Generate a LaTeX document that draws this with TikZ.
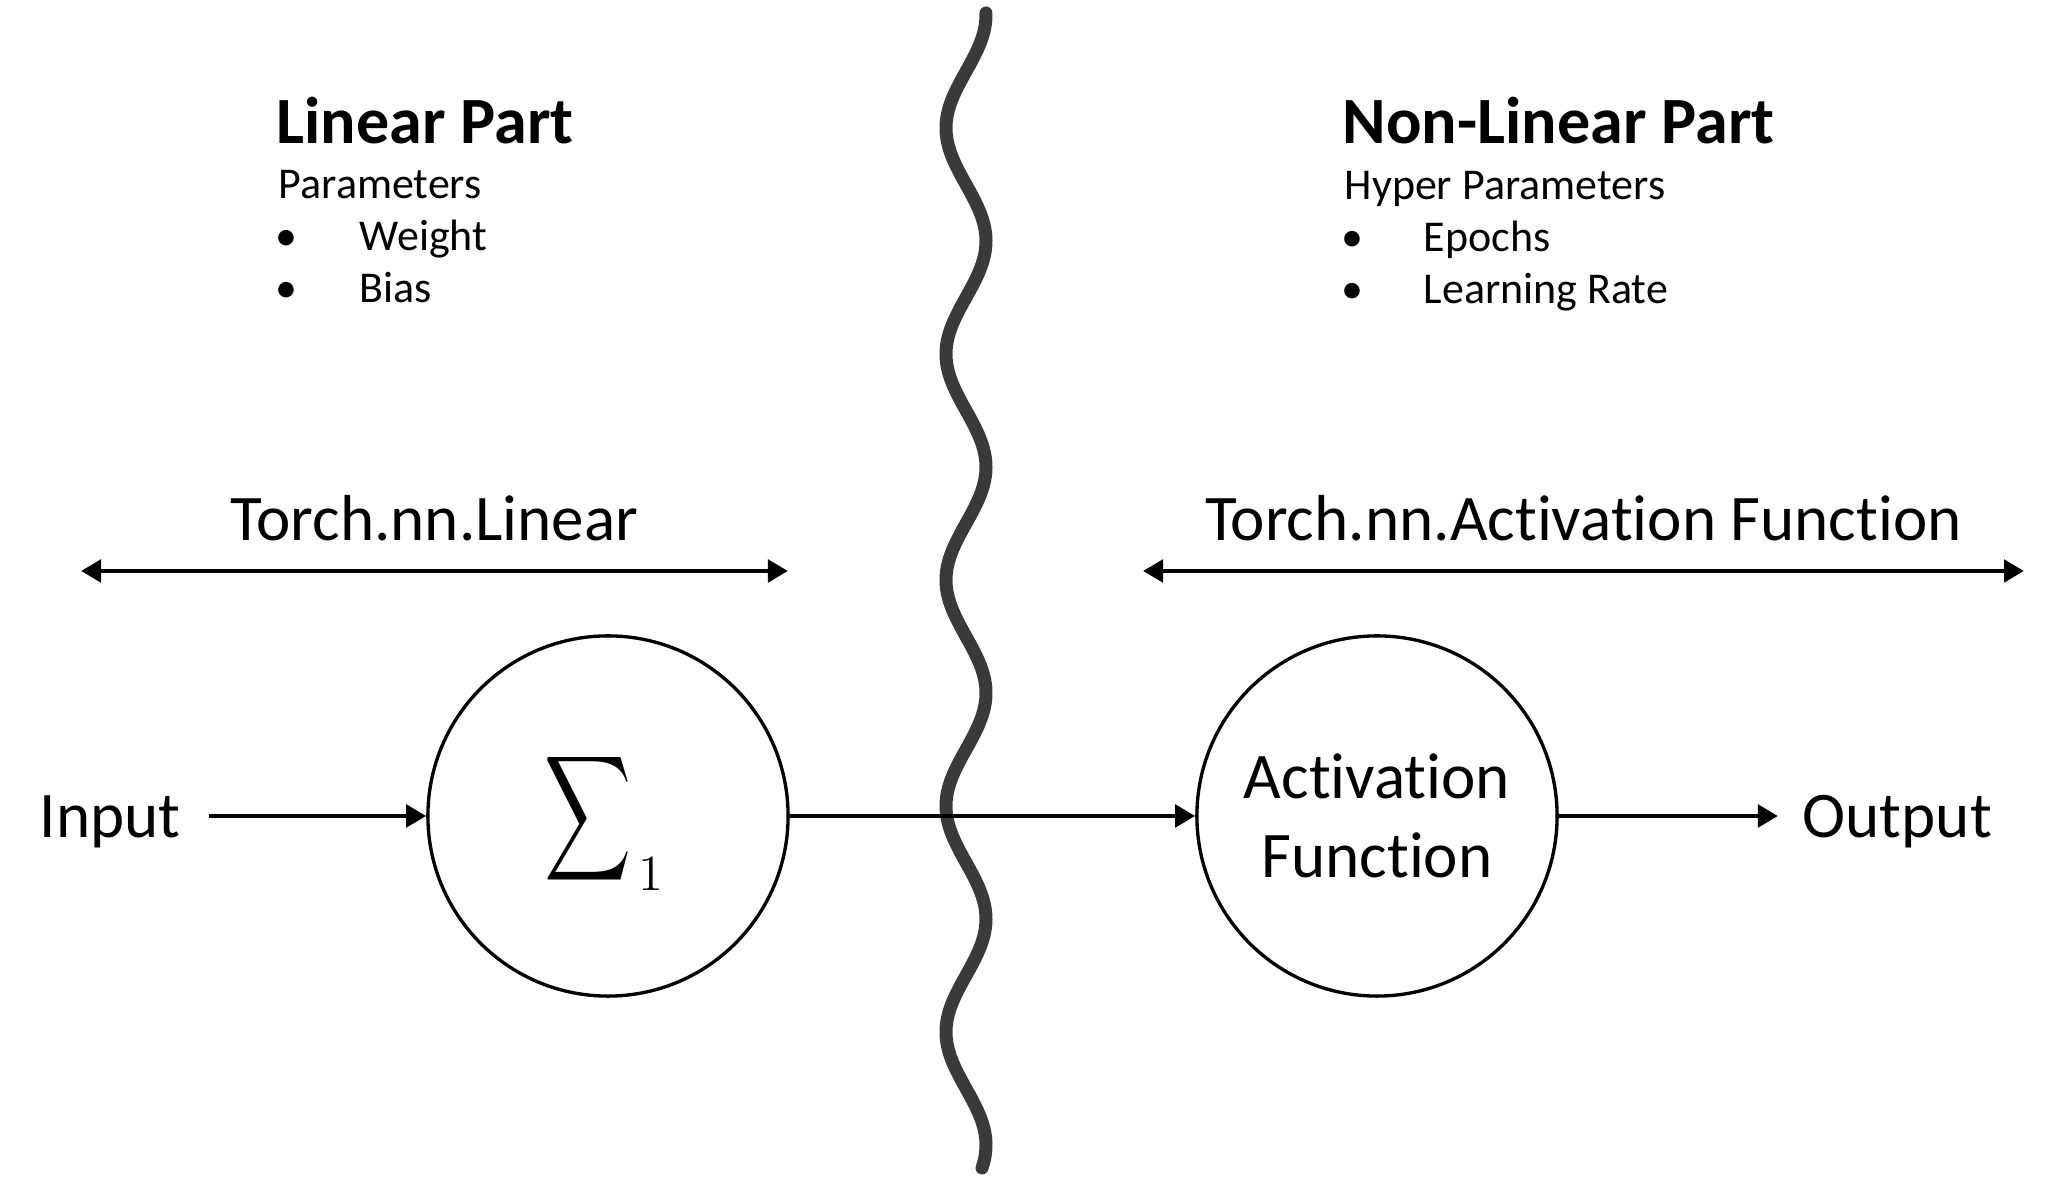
\documentclass[tikz,border=0pt]{standalone}
\usepackage{amsmath}
\usepackage{graphicx}
\usepackage{fontspec}
\setmainfont{Carlito}[Ligatures=NoCommon]
\usetikzlibrary{arrows.meta}
\definecolor{wavegray}{RGB}{58,58,58}

\begin{document}
\begin{tikzpicture}[x=0.01cm,y=-0.01cm,
    >={Triangle[length=0.2cm,width=0.22cm]},
    neuron/.style={draw,circle,line width=0.95pt,minimum size=3.6cm,inner sep=0pt},
    heading/.style={anchor=base west,inner sep=0pt,font=\fontsize{18.8}{23}\selectfont\bfseries},
    subtext/.style={anchor=base west,inner sep=0pt,font=\fontsize{12.5}{15}\selectfont},
    tag/.style={inner sep=0pt,font=\fontsize{18.5}{22.5}\selectfont},
    link/.style={line width=1.4pt}]
        \useasboundingbox (0,0) rectangle (2050,1198);
        % draw the wavy divider
        \draw[wavegray,line width=3.7pt,line cap=round]
            plot[domain=13:1168,samples=240,smooth] ({966+20*cos(1.5929*(\x-15))},\x);
        % draw the two neurons
        \node[neuron] (sum) at (608,816) {};
        \node[anchor=base,inner sep=0pt] (sigma) at (604,841)
            {\fontsize{25}{30}\selectfont\scalebox{0.69}[1]{$\displaystyle\sum$}\kern2pt
             \raisebox{-14pt}{\fontsize{13.5}{16}\selectfont$1$}};
        \node[neuron,tag,align=center,minimum size=3.6cm] (act) at (1377,816) {Activation\\Function};
        % input and output
        \node[tag,anchor=base west] (input) at (39,838) {Input};
        \node[tag,anchor=base west] (output) at (1802,838) {Output};
        \coordinate (instart) at (209,816);
        \coordinate (outend) at (1778,816);
        \draw[link,->] (instart) -- (sum);
        \draw[link,->] (sum) -- (act);
        \draw[link,->] (act) -- (outend);
        % draw the two ranges with their names
        \coordinate (linL) at (81,571);
        \coordinate (linR) at (788,571);
        \draw[link,<->] (linL) -- node[tag,above=0.28cm] (linname) {Torch.nn.Linear} (linR);
        \coordinate (actL) at (1143,571);
        \coordinate (actR) at (2024,571);
        \draw[link,<->] (actL) -- node[tag,above=0.28cm] (actname) {Torch.nn.Activation Function} (actR);
        % the linear part: parameters
        \node[heading] (linhead) at (276,144) {Linear Part};
        \node[subtext] (linpar) at (278,199) {Parameters};
        \foreach \y/\txt [count=\i] in {251/Weight,303/Bias}{
            \node[subtext] (linbul\i) at (275,\y) {\textbullet};
            \node[subtext] (linitem\i) at (359,\y) {\txt};
        }
        % the non-linear part: hyper parameters
        \node[heading] (acthead) at (1342,144) {Non-Linear Part};
        \node[subtext] (actpar) at (1344,200) {Hyper Parameters};
        \foreach \y/\txt [count=\i] in {252/Epochs,304/Learning Rate}{
            \node[subtext] (actbul\i) at (1341,\y) {\textbullet};
            \node[subtext] (actitem\i) at (1423,\y) {\txt};
        }
\end{tikzpicture}
\end{document}
